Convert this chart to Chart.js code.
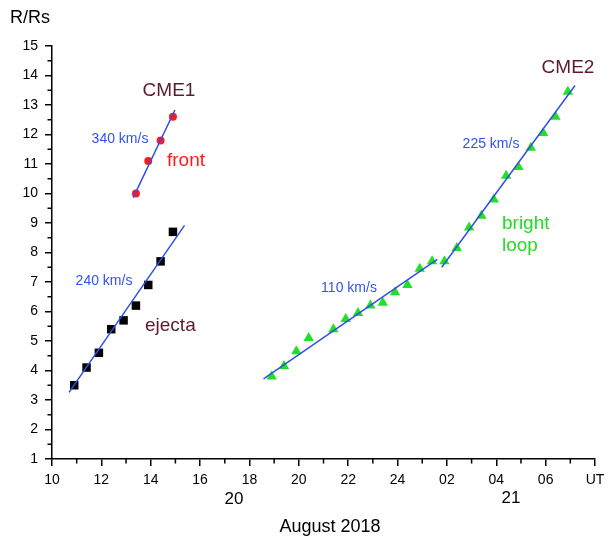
<!DOCTYPE html>
<html>
<head>
  <meta charset="UTF-8" />
  <title>CME height-time</title>
  <script src="https://cdn.jsdelivr.net/npm/chart.js"></script>
  <style>
    html, body { margin: 0; padding: 0; background: #fff; }
  </style>
</head>
<body>
  <canvas id="chart" width="611" height="539"></canvas>

  <script>
    // hours UT counted from 00 on Aug 20 (so 26 = 02 on Aug 21)
    const ejectaTime = [10.9, 11.4, 11.9, 12.4, 12.9, 13.4, 13.9, 14.4, 14.9];
    const ejectaR = [3.5, 4.1, 4.6, 5.4, 5.7, 6.2, 6.9, 7.7, 8.7];

    const frontTime = [13.4, 13.9, 14.4, 14.9];
    const frontR = [10.0, 11.1, 11.8, 12.6];

    const loopTime = [18.9, 19.4, 19.9, 20.4, 21.4, 21.9, 22.4, 22.9, 23.4, 23.9, 24.4, 24.9,
                      25.4, 25.9, 26.4, 26.9, 27.4, 27.9, 28.4, 28.9, 29.4, 29.9, 30.4, 30.9];
    const loopR = [3.8, 4.15, 4.65, 5.1, 5.4, 5.75, 5.95, 6.2, 6.3, 6.65, 6.9, 7.45,
                   7.7, 7.7, 8.15, 8.85, 9.25, 9.8, 10.6, 10.9, 11.55, 12.05, 12.6, 13.45];

    // linear fits (end points)
    const frontFitT = [13.29, 14.98];
    const frontFitR = [9.86, 12.83];
    const ejectaFitT = [10.69, 15.37];
    const ejectaFitR = [3.26, 8.92];
    const slowFitT = [18.57, 25.61];
    const slowFitR = [3.72, 7.77];
    const fastFitT = [25.79, 31.19];
    const fastFitR = [7.5, 13.66];

    const xTickValues = [10, 12, 14, 16, 18, 20, 22, 24, 26, 28, 30, 32];
    const xTickLabels = ['10', '12', '14', '16', '18', '20', '22', '24', '02', '04', '06', 'UT'];

    const pts = (t, r) => t.map((v, i) => ({ x: v, y: r[i] }));

    const FONT = '"Liberation Sans", Arial, sans-serif';
    const BLUE_LINE = '#2f4fe8';

    const fitSet = (t, r) => ({
      type: 'line',
      data: pts(t, r),
      borderColor: BLUE_LINE,
      borderWidth: 1.5,
      pointRadius: 0,
      fill: false
    });

    // minor tick marks between the labelled ones
    const minorTicks = {
      id: 'minorTicks',
      afterDraw(chart) {
        const ctx = chart.ctx;
        const xs = chart.scales.x, ys = chart.scales.y;
        const a = chart.chartArea;
        ctx.save();
        ctx.strokeStyle = '#000';
        ctx.lineWidth = 1.5;
        ctx.beginPath();
        for (let v = 11; v < 32; v += 2) {
          const px = xs.getPixelForValue(v);
          ctx.moveTo(px, a.bottom);
          ctx.lineTo(px, a.bottom + 4.5);
        }
        for (let v = 1.5; v < 15; v += 1) {
          const py = ys.getPixelForValue(v);
          ctx.moveTo(a.left, py);
          ctx.lineTo(a.left - 4.5, py);
        }
        ctx.stroke();
        ctx.restore();
      }
    };

    const labels = {
      id: 'labels',
      afterDraw(chart) {
        const ctx = chart.ctx;
        const put = (txt, x, y, size, color, align, base) => {
          ctx.font = size + 'px ' + FONT;
          ctx.fillStyle = color;
          ctx.textAlign = align || 'center';
          ctx.textBaseline = base || 'middle';
          ctx.fillText(txt, x, y);
        };
        ctx.save();
        const maroon = '#5c1a2e', blue = '#3352ee', red = '#ff1a1a', green = '#22dd22';
        put('R/Rs', 30, 18, 18, '#000');
        put('CME1', 169, 91, 19, maroon);
        put('340 km/s', 120, 139, 14, blue);
        put('front', 167, 166, 19, red, 'left', 'alphabetic');
        put('240 km/s', 104, 281, 14, blue);
        put('ejecta', 145, 331, 19, maroon, 'left', 'alphabetic');
        put('110 km/s', 349, 288, 14, blue);
        put('225 km/s', 491, 144, 14, blue);
        put('bright', 502, 229, 19, green, 'left', 'alphabetic');
        put('loop', 502, 251, 19, green, 'left', 'alphabetic');
        put('CME2', 568, 68, 19, maroon);
        put('20', 234, 499, 17, '#000');
        put('21', 511, 498, 17, '#000');
        put('August 2018', 330, 527, 18, '#000');
        ctx.restore();
      }
    };

    new Chart(document.getElementById('chart'), {
      type: 'scatter',
      data: {
        datasets: [
          fitSet(frontFitT, frontFitR),
          fitSet(ejectaFitT, ejectaFitR),
          fitSet(slowFitT, slowFitR),
          fitSet(fastFitT, fastFitR),
          {
            data: pts(frontTime, frontR),
            pointStyle: 'circle',
            pointRadius: 4,
            backgroundColor: '#ff1a1a',
            borderColor: '#ff1a1a',
            borderWidth: 0
          },
          {
            data: pts(ejectaTime, ejectaR),
            pointStyle: 'rect',
            pointRadius: 6,
            backgroundColor: '#000',
            borderColor: '#000',
            borderWidth: 0
          },
          {
            data: pts(loopTime, loopR),
            pointStyle: 'triangle',
            pointRadius: 6,
            backgroundColor: '#22e022',
            borderColor: '#22e022',
            borderWidth: 0
          }
        ]
      },
      options: {
        responsive: false,
        animation: false,
        events: [],
        layout: { padding: { left: 0, top: 46, right: 16, bottom: 0 } },
        plugins: { legend: { display: false }, tooltip: { enabled: false } },
        scales: {
          x: {
            type: 'linear',
            min: 10,
            max: 32,
            afterFit: (s) => { s.height = 80; },
            afterBuildTicks: (s) => { s.ticks = xTickValues.map(v => ({ value: v })); },
            ticks: {
              autoSkip: false,
              maxRotation: 0,
              padding: 6,
              color: '#000',
              font: { family: FONT, size: 14 },
              callback: (v) => xTickLabels[xTickValues.indexOf(v)]
            },
            grid: { drawOnChartArea: false, tickLength: 7, color: '#000', lineWidth: 1.5 },
            border: { color: '#000', width: 1.5 }
          },
          y: {
            min: 1,
            max: 15,
            afterFit: (s) => { s.width = 52; },
            ticks: {
              stepSize: 1,
              padding: 7,
              color: '#000',
              font: { family: FONT, size: 14 }
            },
            grid: { drawOnChartArea: false, tickLength: 7, color: '#000', lineWidth: 1.5 },
            border: { color: '#000', width: 1.5 }
          }
        }
      },
      plugins: [minorTicks, labels]
    });
  </script>
</body>
</html>
